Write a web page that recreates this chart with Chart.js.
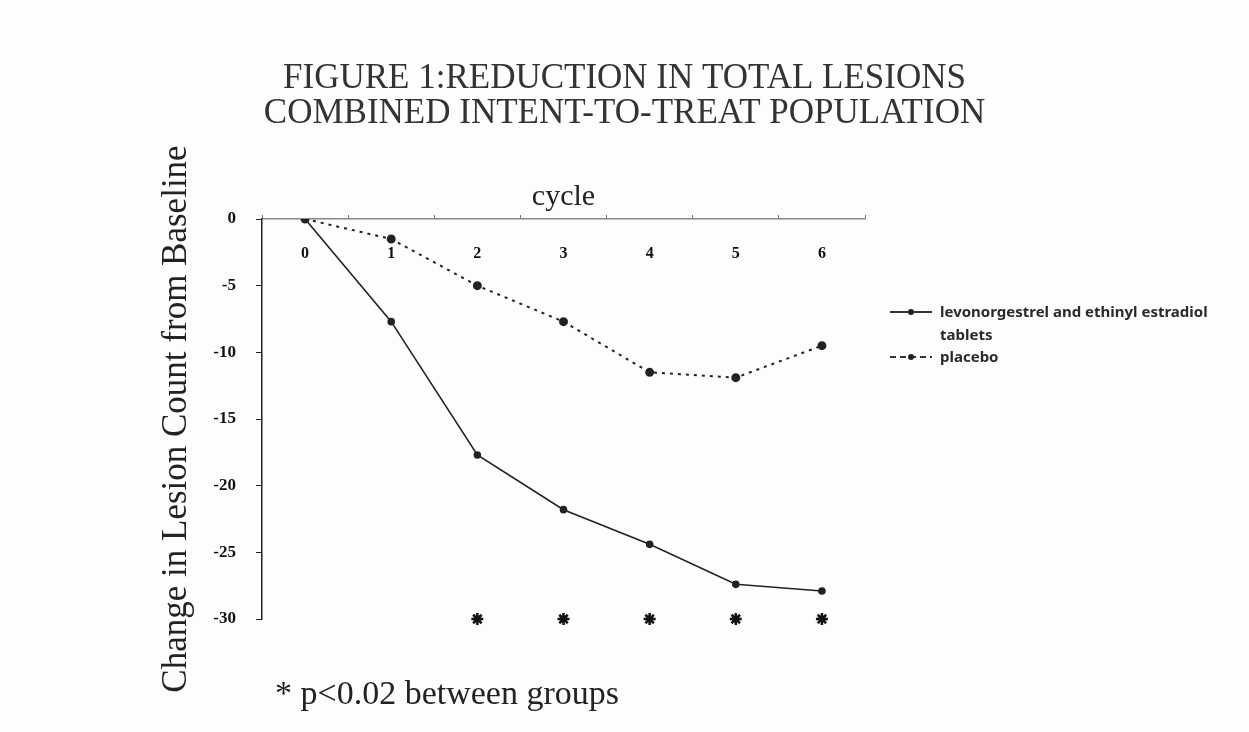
<!DOCTYPE html>
<html>
<head>
<meta charset="utf-8">
<script src="https://cdn.jsdelivr.net/npm/chart.js@4/dist/chart.umd.min.js"></script>
<style>
  body { margin: 0; background: #fdfdfb; }
  #wrap { position: relative; width: 1249px; height: 732px; }
  #legend { position: absolute; left: 890px; top: 300px; font: bold 15px "Noto Sans", sans-serif; color: #2a2a2a; line-height: 22.5px; }
  #legend .item { display: flex; align-items: flex-start; }
  #legend .sample { position: relative; width: 42px; height: 22.5px; margin-right: 8px; flex: none; }
  #legend .sample::before { content: ""; position: absolute; left: 0; right: 0; top: 11px; height: 2px; }
  #legend .solid::before { background: #333; }
  #legend .dashed::before { background: repeating-linear-gradient(to right, #333 0 6px, transparent 6px 10px); }
  #legend .sample::after { content: ""; position: absolute; left: 18px; top: 9px; width: 6px; height: 6px; border-radius: 50%; background: #222; }
  #note { position: absolute; left: 275px; top: 674px; font: 34px "Liberation Serif", serif; color: #222; }
</style>
</head>
<body>
<div id="wrap">
  <canvas id="chart" width="1249" height="732"></canvas>
  <div id="legend">
    <div class="item"><span class="sample solid"></span><span>levonorgestrel and ethinyl estradiol<br>tablets</span></div>
    <div class="item"><span class="sample dashed"></span><span>placebo</span></div>
  </div>
  <div id="note">* p&lt;0.02 between groups</div>
</div>
<script>
// values
const cycles = ['0', '1', '2', '3', '4', '5', '6'];
const drugValues = [0, -7.7, -17.7, -21.8, -24.4, -27.4, -27.9];
const placeboValues = [0, -1.5, -5.0, -7.7, -11.5, -11.9, -9.5];
const significant = [null, null, -30, -30, -30, -30, -30]; // asterisks
const yTicks = [0, -5, -10, -15, -20, -25, -30];

const serif = '"Liberation Serif", "Times New Roman", serif';

// the cycle numbers sit below the top axis line, inside the plot
const innerXLabels = {
  id: 'innerXLabels',
  afterDraw(chart) {
    const x = chart.scales.x;
    const ctx = chart.ctx;
    ctx.save();
    ctx.font = 'bold 16px ' + serif;
    ctx.fillStyle = '#111';
    ctx.textAlign = 'center';
    ctx.textBaseline = 'middle';
    x.ticks.forEach((t, i) => {
      ctx.fillText(x.getLabelForValue(t.value), x.getPixelForTick(i), x.bottom + 35);
    });
    ctx.restore();
  }
};

new Chart(document.getElementById('chart'), {
  type: 'line',
  data: {
    labels: cycles,
    datasets: [
      {
        label: 'levonorgestrel and ethinyl estradiol tablets',
        data: drugValues,
        borderColor: '#222',
        backgroundColor: '#222',
        borderWidth: 1.6,
        pointRadius: 3,
        tension: 0,
      },
      {
        label: 'placebo',
        data: placeboValues,
        borderColor: '#222',
        backgroundColor: '#222',
        borderWidth: 2,
        borderDash: [3, 5],
        pointRadius: 3.5,
        tension: 0,
      },
      {
        label: 'p<0.02',
        data: significant,
        showLine: false,
        pointStyle: 'star',
        pointRadius: 6,
        borderWidth: 2.5,
        borderColor: '#111',
        clip: false,
      },
    ],
  },
  options: {
    responsive: false,
    animation: false,
    layout: { padding: { left: 0, right: 0, top: 0, bottom: 113 } },
    plugins: {
      legend: { display: false },
      tooltip: { enabled: false },
      title: {
        display: true,
        text: ['FIGURE 1:REDUCTION IN TOTAL LESIONS', 'COMBINED INTENT-TO-TREAT POPULATION'],
        color: '#333',
        font: { family: serif, size: 35, weight: 'normal', lineHeight: 1.0 },
        padding: { top: 61, bottom: 0 },
      },
    },
    scales: {
      x: {
        position: 'top',
        offset: true,
        grid: { offset: true, drawOnChartArea: false, tickLength: 4, color: '#777' },
        border: { color: '#888', width: 1.5 },
        ticks: { display: false },
        title: {
          display: true,
          text: 'cycle',
          color: '#222',
          font: { family: serif, size: 30 },
          padding: { top: 48, bottom: 0 },
        },
        afterFit(scale) { scale.height = 88; },
      },
      y: {
        min: -30,
        max: 0,
        afterBuildTicks(scale) { scale.ticks = yTicks.map(v => ({ value: v })); },
        grid: { drawOnChartArea: false, tickLength: 6, color: '#222' },
        border: { color: '#222', width: 1.5 },
        ticks: { color: '#111', padding: 20, font: { family: serif, size: 17, weight: 'bold' } },
        title: {
          display: true,
          text: 'Change in Lesion Count from Baseline',
          color: '#222',
          font: { family: serif, size: 35 },
          padding: { top: 156, bottom: 0 },
        },
        afterFit(scale) { scale.width = 262; },
      },
      // empty right-hand box that keeps room for the legend
      side: {
        type: 'linear',
        axis: 'y',
        position: 'right',
        min: 0,
        max: 1,
        grid: { display: false },
        border: { display: false },
        ticks: { display: false },
        afterFit(scale) { scale.width = 384; },
      },
    },
  },
  plugins: [innerXLabels],
});
</script>
</body>
</html>
